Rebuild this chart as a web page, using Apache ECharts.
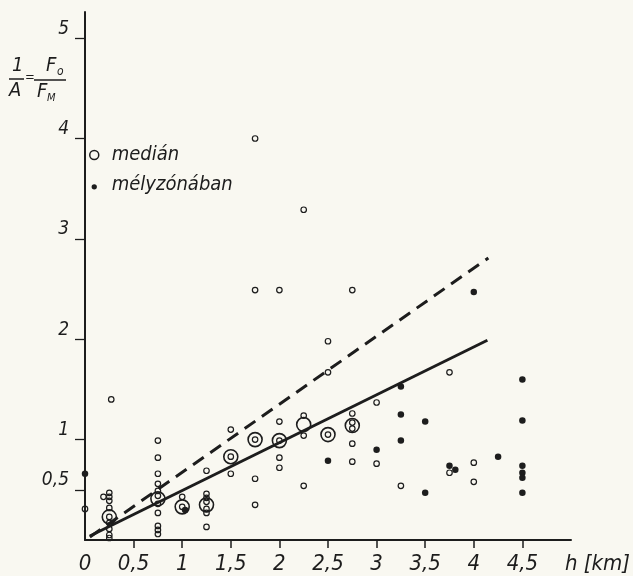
<!DOCTYPE html>
<html>
<head>
<meta charset="utf-8">
<script src="https://cdn.jsdelivr.net/npm/echarts@6/dist/echarts.min.js"></script>
<style>
html,body{margin:0;padding:0;background:#f9f8f1;}
#chart{width:633px;height:576px;}
</style>
</head>
<body>
<div id="chart"></div>
<script>
// ---- data ----
var xTickLabels = [0, 0.5, 1, 1.5, 2, 2.5, 3, 3.5, 4, 4.5];
var yTickLabels = [0.5, 1, 2, 3, 4, 5];

// individual measurements (small open circles)
var openPoints = [
  [0, 0.31],
  [0.19, 0.43],
  [0.25, 0.47], [0.25, 0.43], [0.25, 0.39], [0.25, 0.32], [0.25, 0.23], [0.25, 0.17], [0.25, 0.11], [0.25, 0.05], [0.25, 0.02], [0.27, 1.40],
  [0.75, 0.99], [0.75, 0.82], [0.75, 0.66], [0.75, 0.56], [0.75, 0.49], [0.75, 0.44], [0.75, 0.36], [0.75, 0.27], [0.75, 0.14], [0.75, 0.10], [0.75, 0.06],
  [1.0, 0.43], [1.0, 0.33],
  [1.25, 0.69], [1.25, 0.46], [1.25, 0.42], [1.25, 0.38], [1.25, 0.31], [1.25, 0.27], [1.25, 0.13],
  [1.5, 1.10], [1.5, 0.83], [1.5, 0.66],
  [1.75, 4.00], [1.75, 2.49], [1.75, 1.00], [1.75, 0.61], [1.75, 0.35],
  [2.0, 2.49], [2.0, 1.18], [2.0, 0.99], [2.0, 0.82], [2.0, 0.72],
  [2.25, 3.29], [2.25, 1.24], [2.25, 1.04], [2.25, 0.54],
  [2.5, 1.98], [2.5, 1.67], [2.5, 1.05],
  [2.75, 2.49], [2.75, 1.26], [2.75, 1.17], [2.75, 1.11], [2.75, 0.96], [2.75, 0.78],
  [3.0, 1.37], [3.0, 0.76],
  [3.25, 0.54],
  [3.75, 1.67], [3.75, 0.67],
  [4.0, 0.77], [4.0, 0.58]
];

// medians (large open circles)
var medianPoints = [
  [0.25, 0.23], [0.75, 0.41], [1.0, 0.33], [1.25, 0.35], [1.5, 0.83],
  [1.75, 1.00], [2.0, 0.99], [2.25, 1.15], [2.5, 1.05], [2.75, 1.14]
];

// values in the deep zone (filled dots)
var deepPoints = [
  [0, 0.66],
  [1.03, 0.30],
  [2.5, 0.79],
  [3.0, 0.90],
  [3.25, 1.53], [3.25, 1.25], [3.25, 0.99],
  [3.5, 1.18], [3.5, 0.47],
  [3.75, 0.74], [3.81, 0.70],
  [4.0, 2.47],
  [4.25, 0.83],
  [4.5, 1.60], [4.5, 1.19], [4.5, 0.74], [4.5, 0.67], [4.5, 0.62], [4.5, 0.47]
];

// fitted lines
var solidLine = [[0.05, 0.04], [4.14, 1.99]];
var dashedLine = [[0.05, 0.03], [4.15, 2.81]];

// ---- chart ----
var ink = '#1d1d1d';
var paper = '#f9f8f1';
var fam = '"Liberation Sans Narrow", "DejaVu Sans Condensed", "Liberation Sans", sans-serif';
function comma(v){ return String(v).replace('.', ','); }

var chart = echarts.init(document.getElementById('chart'), null, {renderer:'canvas'});
chart.setOption({
  backgroundColor: paper,
  animation: false,
  textStyle: {fontFamily: fam, fontStyle: 'italic', color: ink},
  grid: {left: 85, right: 51, top: 12, bottom: 36, containLabel: false},
  legend: {
    orient: 'vertical',
    left: 89, top: 143, padding: 0,
    itemWidth: 9, itemHeight: 9, itemGap: 6,
    selectedMode: false,
    textStyle: {fontFamily: fam, fontStyle: 'italic', fontSize: 20, lineHeight: 24, color: ink, padding: [0, 0, 0, 8]},
    data: [
      {name: 'medián', icon: 'circle', itemStyle: {color: 'rgba(0,0,0,0)', borderColor: ink, borderWidth: 1.5}},
      {name: 'mélyzónában', icon: 'path://M0,0M10,10M5,7.2m-3,0a3,3 0 1,0 6,0a3,3 0 1,0 -6,0z', itemStyle: {color: ink, borderWidth: 0}}
    ]
  },
  xAxis: {
    type: 'value', min: 0, max: 5,
    name: 'h [km]', nameLocation: 'end', nameGap: -6,
    nameTextStyle: {fontFamily: fam, fontStyle: 'italic', fontSize: 22, color: ink, verticalAlign: 'top', align: 'left', padding: [13, 0, 0, 0]},
    axisLine: {show: true, onZero: false, lineStyle: {color: ink, width: 2}},
    axisTick: {show: true, length: 8, lineStyle: {color: ink, width: 1.5}, customValues: [0.5, 1, 1.5, 2, 2.5, 3, 3.5, 4, 4.5]},
    axisLabel: {show: true, margin: 13, fontFamily: fam, fontStyle: 'italic', fontSize: 22, color: ink,
      customValues: xTickLabels, formatter: function(v){ return comma(v); }},
    splitLine: {show: false}
  },
  yAxis: {
    type: 'value', min: 0, max: 5.26,
    axisLine: {show: true, onZero: false, lineStyle: {color: ink, width: 2}},
    axisTick: {show: true, length: 10, lineStyle: {color: ink, width: 1.3}, customValues: yTickLabels},
    axisLabel: {show: true, margin: 16, fontFamily: fam, fontStyle: 'italic', fontSize: 19, color: ink,
      verticalAlign: 'bottom', customValues: yTickLabels, formatter: function(v){ return comma(v); }},
    splitLine: {show: false}
  },
  graphic: [
    {type: 'text', left: 12, top: 56, style: {text: '1', font: 'italic 20px ' + fam, fill: ink}},
    {type: 'line', shape: {x1: 9, y1: 79, x2: 24, y2: 79}, style: {stroke: ink, lineWidth: 1.5}},
    {type: 'text', left: 9, top: 81, style: {text: 'A', font: 'italic 20px ' + fam, fill: ink}},
    {type: 'text', left: 25, top: 71, style: {text: '=', font: 'italic 13px ' + fam, fill: ink}},
    {type: 'text', left: 46, top: 56, style: {text: 'F', font: 'italic 20px ' + fam, fill: ink}},
    {type: 'text', left: 57, top: 66, style: {text: 'o', font: 'italic 12px ' + fam, fill: ink}},
    {type: 'line', shape: {x1: 34, y1: 80, x2: 66, y2: 80}, style: {stroke: ink, lineWidth: 1.5}},
    {type: 'text', left: 37, top: 82, style: {text: 'F', font: 'italic 20px ' + fam, fill: ink}},
    {type: 'text', left: 47, top: 93, style: {text: 'M', font: 'italic 11px ' + fam, fill: ink}}
  ],
  series: [
    {
      name: 'lin1', type: 'line', data: solidLine, symbol: 'none', silent: true,
      lineStyle: {color: ink, width: 3}, z: 2
    },
    {
      name: 'lin2', type: 'line', data: dashedLine, symbol: 'none', silent: true,
      lineStyle: {color: ink, width: 3, type: [13, 8]}, z: 2
    },
    {
      name: 'medián', type: 'scatter', data: medianPoints, symbol: 'circle', symbolSize: 14,
      itemStyle: {color: 'rgba(0,0,0,0)', borderColor: ink, borderWidth: 1.6, opacity: 1}, z: 3
    },
    {
      name: 'egyedi', type: 'scatter', data: openPoints, symbol: 'circle', symbolSize: 5.5,
      itemStyle: {color: 'rgba(0,0,0,0)', borderColor: ink, borderWidth: 1.2, opacity: 1}, z: 4
    },
    {
      name: 'mélyzónában', type: 'scatter', data: deepPoints, symbol: 'circle', symbolSize: 6.5,
      itemStyle: {color: ink, opacity: 1}, z: 5
    }
  ]
});
</script>
</body>
</html>
